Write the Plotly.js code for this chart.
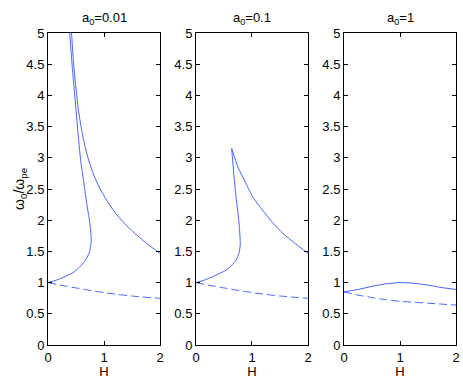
<!DOCTYPE html>
<html>
<head>
<meta charset="utf-8">
<script src="https://cdn.plot.ly/plotly-3.0.1.min.js"></script>
<style>
  body { margin: 0; background: #fff; }
  #chart { width: 463px; height: 379px; }
</style>
</head>
<body>
<div id="chart"></div>
<script>
// panel titles
var panelTitles = ["a<sub>0</sub>=0.01", "a<sub>0</sub>=0.1", "a<sub>0</sub>=1"];

// a0 = 0.01 : lower (left) solid branch
var p1LowH = [0, 0.15, 0.3, 0.45, 0.565, 0.67, 0.744, 0.772, 0.765, 0.74, 0.69, 0.64, 0.583, 0.54, 0.5, 0.46, 0.423, 0.387, 0.36];
var p1LowW = [1, 1.04, 1.095, 1.16, 1.25, 1.36, 1.5, 1.66, 1.8, 2.0, 2.27, 2.6, 2.96, 3.35, 3.77, 4.17, 4.57, 5.0, 5.3];
// a0 = 0.01 : upper (right) solid branch
var p1UpH = [0.4, 0.42, 0.452, 0.495, 0.542, 0.6, 0.661, 0.73, 0.81, 0.92, 1.048, 1.19, 1.37, 1.55, 1.78, 2.0];
var p1UpW = [5.3, 5.0, 4.57, 4.15, 3.77, 3.45, 3.18, 2.95, 2.74, 2.52, 2.32, 2.13, 1.945, 1.79, 1.615, 1.47];
// a0 = 0.01 : dashed branch
var p1DashH = [0, 0.25, 0.5, 0.75, 1, 1.25, 1.5, 1.75, 2];
var p1DashW = [1, 0.955, 0.915, 0.875, 0.84, 0.81, 0.785, 0.765, 0.748];

// a0 = 0.1
var p2LowH = [0, 0.15, 0.298, 0.45, 0.536, 0.64, 0.714, 0.77, 0.79, 0.785, 0.774, 0.745, 0.714, 0.675, 0.637];
var p2LowW = [1, 1.04, 1.095, 1.16, 1.2, 1.28, 1.36, 1.48, 1.6, 1.75, 1.9, 2.15, 2.38, 2.75, 3.15];
var p2UpH = [0.637, 0.75, 0.893, 1.02, 1.19, 1.37, 1.55, 1.78, 2.0];
var p2UpW = [3.15, 2.85, 2.59, 2.36, 2.16, 1.96, 1.79, 1.62, 1.47];
var p2DashH = [0, 0.25, 0.5, 0.75, 1, 1.25, 1.5, 1.75, 2];
var p2DashW = [1, 0.955, 0.915, 0.875, 0.84, 0.81, 0.785, 0.765, 0.748];

// a0 = 1
var p3SolidH = [0, 0.25, 0.5, 0.75, 1, 1.25, 1.5, 1.75, 2];
var p3SolidW = [0.85, 0.89, 0.94, 0.98, 1.0, 0.99, 0.96, 0.92, 0.89];
var p3DashH = [0, 0.25, 0.5, 0.75, 1, 1.25, 1.5, 1.75, 2];
var p3DashW = [0.85, 0.8, 0.76, 0.725, 0.7, 0.685, 0.67, 0.655, 0.64];

var xTicks = [0, 1, 2];
var yTicks = [0, 0.5, 1, 1.5, 2, 2.5, 3, 3.5, 4, 4.5, 5];
var yTickText = ["0", "0.5", "1", "1.5", "2", "2.5", "3", "3.5", "4", "4.5", "5"];

var blue = "rgb(70,100,250)";

function solid(x, y, ax) {
  return {x: x, y: y, xaxis: "x" + ax, yaxis: "y" + ax, mode: "lines",
    line: {color: blue, width: 1, shape: "spline", smoothing: 0.6}, hoverinfo: "skip"};
}
function dashed(x, y, ax) {
  return {x: x, y: y, xaxis: "x" + ax, yaxis: "y" + ax, mode: "lines",
    line: {color: blue, width: 1, dash: "8px,4px", shape: "spline", smoothing: 0.6}, hoverinfo: "skip"};
}

var data = [
  solid(p1LowH, p1LowW, ""), solid(p1UpH, p1UpW, ""), dashed(p1DashH, p1DashW, ""),
  solid(p2LowH, p2LowW, "2"), solid(p2UpH, p2UpW, "2"), dashed(p2DashH, p2DashW, "2"),
  solid(p3SolidH, p3SolidW, "3"), dashed(p3DashH, p3DashW, "3")
];

var font = {family: "Liberation Sans, Arial, sans-serif", size: 13, color: "black"};

function xax(dom, anchor) {
  return {domain: dom, anchor: anchor, range: [0, 2], tickvals: xTicks, ticks: "inside",
    ticklen: 4, tickcolor: "#000", mirror: "ticks", showline: true, linecolor: "#000",
    linewidth: 1, showgrid: false, zeroline: false, tickfont: font, fixedrange: true,
    title: {text: "H", font: font, standoff: 1}};
}
function yax(anchor) {
  return {domain: [0.0897, 0.9129], anchor: anchor, range: [0, 5], tickvals: yTicks,
    ticktext: yTickText, ticks: "inside", ticklen: 4, tickcolor: "#000", mirror: "ticks",
    showline: true, linecolor: "#000", linewidth: 1, showgrid: false, zeroline: false,
    tickfont: font, fixedrange: true};
}

var layout = {
  width: 463, height: 379,
  margin: {l: 0, r: 0, t: 0, b: 0},
  paper_bgcolor: "#fff", plot_bgcolor: "#fff",
  showlegend: false,
  font: font,
  xaxis: xax([0.1037, 0.3456], "y"),
  xaxis2: xax([0.4233, 0.6652], "y2"),
  xaxis3: xax([0.743, 0.9849], "y3"),
  yaxis: yax("x"),
  yaxis2: yax("x2"),
  yaxis3: yax("x3"),
  annotations: []
};

var centers = [(0.1037 + 0.3456) / 2, (0.4233 + 0.6652) / 2, (0.743 + 0.9849) / 2];
for (var i = 0; i < panelTitles.length; i++) {
  layout.annotations.push({text: panelTitles[i], x: centers[i], y: 0.9129, xref: "paper",
    yref: "paper", xanchor: "center", yanchor: "bottom", yshift: 4, showarrow: false, font: font});
}
// y axis label, placed like the reference
layout.annotations.push({text: "ω<sub>0</sub>/ω<sub>pe</sub>", x: 20 / 463, y: 0.5013,
  xref: "paper", yref: "paper", xanchor: "center", yanchor: "middle", textangle: -90,
  showarrow: false, font: {family: font.family, size: 14, color: "black"}});

Plotly.newPlot("chart", data, layout, {staticPlot: true});
</script>
</body>
</html>
